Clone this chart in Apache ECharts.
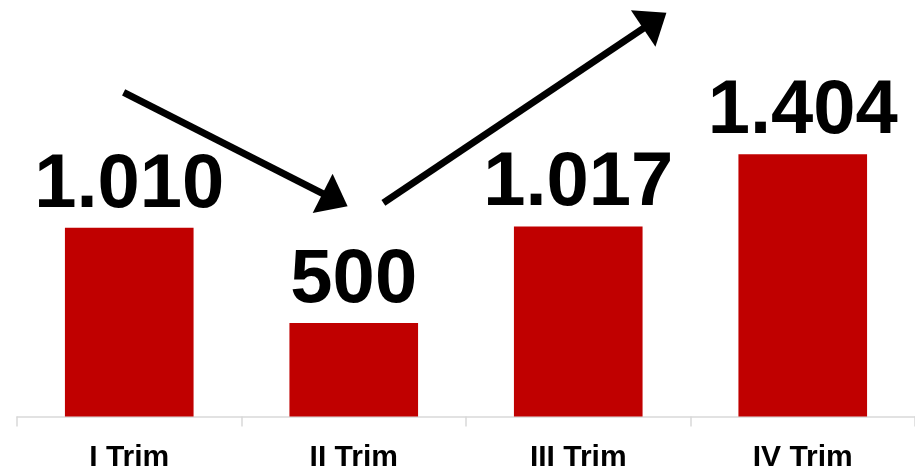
<!DOCTYPE html>
<html>
<head>
<meta charset="utf-8">
<script src="https://cdn.jsdelivr.net/npm/echarts@6/dist/echarts.min.js"></script>
<style>html,body{margin:0;padding:0;background:#fff;}#c{width:915px;height:476px;}</style>
</head>
<body>
<div id="c"></div>
<script>
// Data
var categories = ['I Trim', 'II Trim', 'III Trim', 'IV Trim'];
var values = [1010, 500, 1017, 1404];
var valueLabels = ['1.010', '500', '1.017', '1.404'];
// Trend arrows in data space: [categoryPosition, value] start -> end
var arrowDown = [[-0.025, 1735], [0.917, 1160]];
var arrowUp = [[1.132, 1143], [2.341, 2119]];

var chart = echarts.init(document.getElementById('c'));
chart.setOption({
  animation: false,
  grid: { left: 17, right: -3, top: 5.5, bottom: 59.5 },
  xAxis: [{
    type: 'category',
    data: categories,
    axisLine: { lineStyle: { color: '#d9d9d9', width: 1.5 } },
    axisTick: { show: true, length: 10, lineStyle: { color: '#d9d9d9', width: 1.5 } },
    axisLabel: { color: '#000', fontWeight: 'bold', fontSize: 30, fontFamily: '"Liberation Sans", Arial, sans-serif', margin: 26 }
  }, {
    type: 'value', min: -0.5, max: 3.5, show: false
  }],
  yAxis: { type: 'value', min: 0, max: 2200, show: false, splitLine: { show: false } },
  series: [{
    type: 'bar',
    data: values,
    barWidth: '57.3%',
    itemStyle: { color: '#C00000' },
    label: {
      show: true, position: 'top', distance: 4,
      color: '#000', fontWeight: 'bold', fontSize: 76,
      fontFamily: '"Liberation Sans", Arial, sans-serif',
      formatter: function (p) { return valueLabels[p.dataIndex]; }
    }
  }, {
    type: 'lines',
    coordinateSystem: 'cartesian2d',
    xAxisIndex: 1, yAxisIndex: 0,
    clip: false,
    symbol: ['none', 'triangle'],
    symbolSize: [[1, 1], [44, 28]],
    lineStyle: { color: '#000', width: 7, opacity: 1 },
    data: [{ coords: arrowDown }, { coords: arrowUp }]
  }]
});
</script>
</body>
</html>
